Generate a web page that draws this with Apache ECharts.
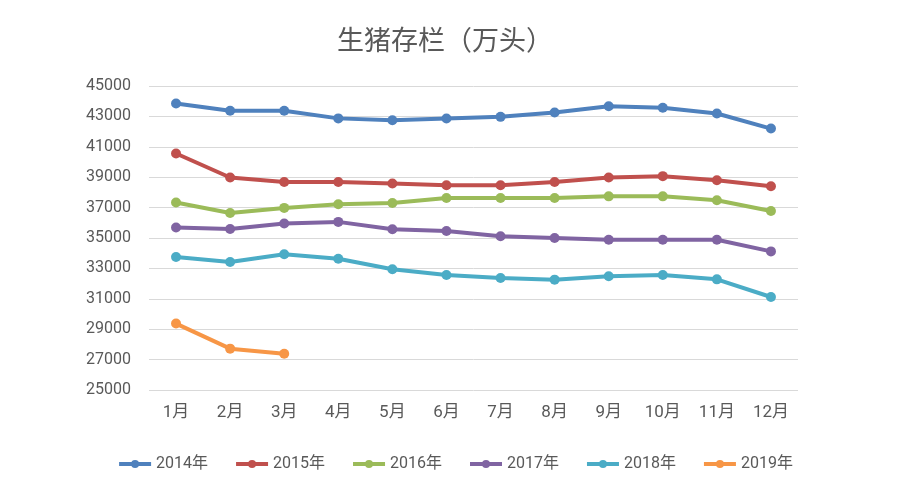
<!DOCTYPE html>
<html><head><meta charset="utf-8">
<script src="https://cdn.jsdelivr.net/npm/echarts@6/dist/echarts.min.js"></script>
<style>html,body{margin:0;padding:0;background:#fff}#c{width:910px;height:503px}</style>
</head><body><div id="c"></div>
<script>
const months = ['1月','2月','3月','4月','5月','6月','7月','8月','9月','10月','11月','12月'];
const yearNames = ['2014年','2015年','2016年','2017年','2018年','2019年'];
const y2014 = [43850,43370,43370,42870,42750,42860,42970,43260,43670,43570,43190,42200];
const y2015 = [40560,38980,38690,38690,38580,38470,38470,38690,38980,39070,38800,38400];
const y2016 = [37330,36650,36980,37220,37300,37630,37630,37630,37740,37740,37480,36780];
const y2017 = [35690,35590,35950,36060,35570,35460,35110,35000,34890,34890,34890,34120];
const y2018 = [33750,33420,33930,33640,32940,32560,32370,32260,32480,32560,32280,31120];
const y2019 = [29370,27720,27390];
const colors = ['#4F81BD','#C0504D','#9BBB59','#8064A2','#4BACC6','#F79646'];
const allData = [y2014,y2015,y2016,y2017,y2018,y2019];

const chart = echarts.init(document.getElementById('c'), null, {renderer:'canvas'});
chart.setOption({
  animation:false,
  color: colors,
  title:{text:'生猪存栏（万头）', left:440, top:21, textAlign:'center',
    textStyle:{fontSize:27, fontWeight:'normal', color:'#595959', fontFamily:'Noto Sans CJK SC'}},
  grid:{left:149, right:112, top:86, bottom:113, containLabel:false},
  legend:{bottom:26, left:'center', itemWidth:32, itemHeight:10, itemGap:26,
    lineStyle:{width:4},
    textStyle:{fontSize:16, color:'#595959', fontFamily:'Roboto, Noto Sans CJK SC'},
    data: yearNames},
  xAxis:{type:'category', data: months, boundaryGap:true,
    axisLine:{show:false}, axisTick:{show:false},
    axisLabel:{fontSize:17, color:'#595959', margin:14, fontFamily:'Roboto, Noto Sans CJK SC'}},
  yAxis:{type:'value', min:25000, max:45000, interval:2000,
    axisLine:{show:false}, axisTick:{show:false},
    splitLine:{lineStyle:{color:'#D9D9D9', width:1}},
    axisLabel:{fontSize:16, color:'#595959', margin:18, fontFamily:'Roboto, sans-serif',
      formatter: v => String(v)}},
  series: yearNames.map((n,i)=>({
    name:n, type:'line', data: allData[i], symbol:'circle', symbolSize:10,
    lineStyle:{width:4, color:colors[i]}, itemStyle:{color:colors[i]}
  }))
});
</script></body></html>
